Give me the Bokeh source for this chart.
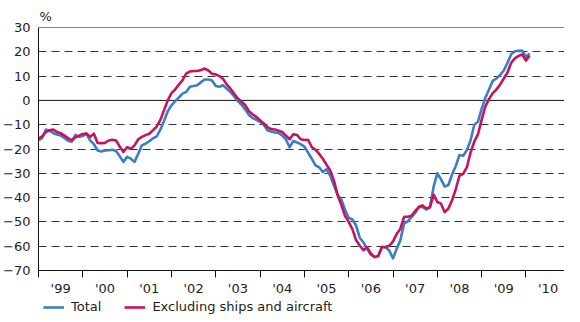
import numpy as np
from bokeh.plotting import figure
from bokeh.layouts import column
from bokeh.models import FixedTicker, Span, Legend, LegendItem, Range1d
from bokeh.embed import file_html
from bokeh.resources import INLINE

# ---- data (monthly, Jan 1999 .. Feb 2010), % change ----
start_year = 1999
total = [
    -16.4, -15.5, -12.0, -12.5, -13.5, -14.0, -14.4, -15.5, -16.6, -17.0, -14.2, -15.0,
    -14.6, -13.8, -16.5, -18.0, -20.6, -21.0, -20.6, -20.5, -20.3, -20.8, -23.0, -25.3,
    -23.2, -24.0, -25.3, -22.0, -18.5, -17.8, -16.8, -15.6, -14.8, -12.0, -8.5, -4.5,
    -2.0, -0.3, 1.2, 2.8, 3.5, 5.6, 5.9, 6.2, 7.5, 8.6, 8.6, 8.2,
    5.9, 5.6, 6.2, 4.8, 3.4, 1.6, -0.3, -1.8, -3.8, -6.0, -7.3, -8.0,
    -8.8, -10.0, -12.3, -12.8, -13.2, -13.4, -14.5, -16.0, -19.3, -16.7, -17.3, -18.0,
    -19.0, -21.5, -24.0, -26.7, -27.5, -29.5, -28.3, -31.0, -35.0, -38.8, -40.8, -45.0,
    -48.3, -49.0, -51.5, -56.5, -58.5, -61.0, -63.5, -64.4, -64.0, -60.3, -60.5, -61.8,
    -65.0, -61.0, -57.5, -50.7, -49.8, -48.0, -46.3, -44.0, -43.8, -44.9, -44.0, -35.5,
    -30.0, -32.5, -35.5, -34.8, -30.5, -27.0, -22.5, -22.8, -20.5, -16.5, -10.0, -8.8,
    -3.5, 1.0, 4.5, 8.0, 9.0, 10.5, 12.3, 15.5, 19.0, 20.2, 20.4, 20.5,
    18.0, 19.3,
]
excluding = [
    -15.8, -14.8, -13.0, -12.3, -12.0, -13.0, -13.5, -14.5, -15.5, -16.4, -15.2, -14.5,
    -13.8, -13.6, -15.0, -13.7, -17.5, -17.6, -17.5, -16.5, -16.2, -16.5, -19.0, -21.2,
    -19.3, -19.9, -18.5, -16.0, -15.0, -14.3, -13.7, -12.3, -10.8, -8.0, -4.0, 0.0,
    3.0, 4.5, 6.5, 8.3, 11.0, 11.9, 12.1, 12.1, 12.5, 13.1, 12.3, 11.0,
    10.7, 10.0, 8.8, 6.5, 4.8, 2.7, 0.8, -0.5, -2.0, -4.5, -5.8, -6.8,
    -8.2, -9.5, -11.0, -11.8, -12.0, -12.5, -13.0, -14.5, -16.0, -13.9, -14.2, -16.0,
    -16.3, -16.2, -19.2, -20.3, -22.0, -24.0, -26.5, -28.8, -33.0, -39.0, -43.0, -47.5,
    -50.0, -53.0, -57.5, -59.8, -61.6, -60.5, -63.0, -64.5, -64.0, -60.3, -60.3, -59.8,
    -58.0, -55.0, -52.8, -47.9, -47.9, -47.5, -45.5, -43.8, -43.2, -44.5, -44.0, -38.8,
    -41.8, -42.5, -46.0, -44.5, -41.1, -36.5, -31.0, -30.2, -27.5, -21.5, -17.0, -14.0,
    -8.0, -2.5, 0.5, 3.0, 4.5, 6.5, 9.0, 11.5, 15.5, 17.3, 18.3, 18.9,
    16.4, 18.5,
]
year_labels = ["'99", "'00", "'01", "'02", "'03", "'04", "'05", "'06", "'07", "'08", "'09", "'10"]
y_ticks = [-70, -60, -50, -40, -30, -20, -10, 0, 10, 20, 30]
series_names = ["Total", "Excluding ships and aircraft"]
unit_label = "%"

BLUE = "#3b7ec6"
RED = "#c8125e"
FONT = "DejaVu Sans"
TXT = "#1e1e1e"
LW = 2.6

x = start_year + np.arange(len(total)) / 12.0
years = [start_year + i for i in range(len(year_labels))]
mids = [y + 0.5 for y in years]

p = figure(width=564, height=300, output_backend="svg", toolbar_location=None,
           x_range=Range1d(1999, 2010.87), y_range=Range1d(-70, 30),
           min_border_left=33, min_border_right=0, min_border_top=27, min_border_bottom=30,
           title=unit_label)
p.outline_line_color = None
p.background_fill_color = "white"

# "%" as a left-aligned title above the frame
p.title.align = "left"
p.title.text_font = FONT
p.title.text_font_size = "13px"
p.title.text_font_style = "normal"
p.title.text_color = TXT
p.title.standoff = 7
p.title.offset = 1

# grid
p.xgrid.visible = False
p.ygrid.ticker = FixedTicker(ticks=[t for t in y_ticks if t not in (0, 30, -70)])
p.ygrid.grid_line_color = "#333333"
p.ygrid.grid_line_dash = "8 5"
p.ygrid.grid_line_width = 1

# solid top and zero lines
for loc in (0, 30):
    p.add_layout(Span(location=loc, dimension="width", line_color="#111111",
                      line_width=1, level="underlay"))

# y axis
p.yaxis.ticker = FixedTicker(ticks=y_ticks)
p.yaxis.major_tick_out = 0
p.yaxis.major_tick_in = 0
p.yaxis.minor_tick_out = 0
p.yaxis.minor_tick_in = 0
p.yaxis.major_label_standoff = 8
p.yaxis.axis_line_color = "#111111"
p.yaxis.major_label_text_font = FONT
p.yaxis.major_label_text_font_size = "13px"
p.yaxis.major_label_text_color = TXT

# x axis: labels mid-year, ticks at year boundaries
p.xaxis.ticker = FixedTicker(ticks=mids, minor_ticks=years)
p.xaxis.major_label_overrides = {m: lab for m, lab in zip(mids, year_labels)}
p.xaxis.major_tick_out = 0
p.xaxis.major_tick_in = 0
p.xaxis.minor_tick_out = 7
p.xaxis.minor_tick_in = 0
p.xaxis.minor_tick_line_color = "#111111"
p.xaxis.major_label_standoff = 3
p.xaxis.axis_line_color = "#111111"
p.xaxis.major_label_text_font = FONT
p.xaxis.major_label_text_font_size = "13px"
p.xaxis.major_label_text_color = TXT

p.line(x, total, line_color=BLUE, line_width=LW, line_join="round")
p.line(x, excluding, line_color=RED, line_width=LW, line_join="round")

# legend strip below the chart (sample lines lie outside its visible range)
leg = figure(width=564, height=14, output_backend="svg", toolbar_location=None,
             x_range=Range1d(0, 1), y_range=Range1d(0, 1),
             min_border=0, min_border_left=0, min_border_right=0,
             min_border_top=0, min_border_bottom=0,
             x_axis_location=None, y_axis_location=None)
leg.outline_line_color = None
leg.xgrid.visible = False
leg.ygrid.visible = False
l1 = leg.line([-5, -4], [-5, -4], line_color=BLUE, line_width=LW)
l2 = leg.line([-5, -4], [-5, -4], line_color=RED, line_width=LW)
legend = Legend(items=[LegendItem(label=series_names[0], renderers=[l1]),
                       LegendItem(label=series_names[1], renderers=[l2])],
                location=(5, 0), orientation="horizontal",
                border_line_color=None, background_fill_alpha=0,
                padding=0, margin=0, spacing=23, glyph_width=21, glyph_height=14,
                label_height=14, label_standoff=7, label_text_font=FONT,
                label_text_font_size="13px", label_text_color=TXT)
leg.add_layout(legend)

layout = column(p, leg, spacing=0)
open("out.html", "w").write(file_html(layout, INLINE))
